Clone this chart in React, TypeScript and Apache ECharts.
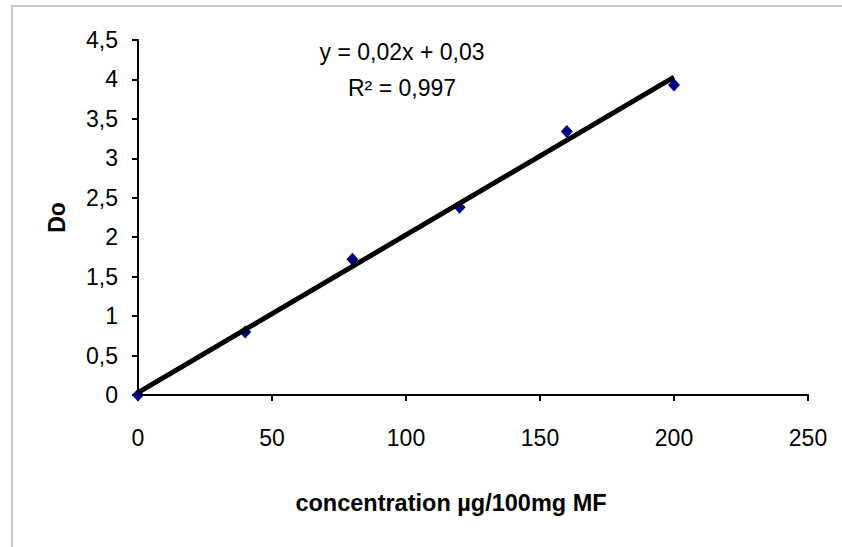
import React, { useEffect, useRef } from "react";
import * as echarts from "echarts";

const concentrations = [0, 40, 80, 120, 160, 200];
const absorbance = [0, 0.8, 1.72, 2.38, 3.34, 3.93];
const slope = 0.02;
const intercept = 0.03;
const trendX = [0, 200];
const equationLines = ["y = 0,02x + 0,03", "R² = 0,997"];
const xAxisTitle = "concentration µg/100mg MF";
const yAxisTitle = "Do";

const FONT = "Arial, 'Liberation Sans', sans-serif";

export default function App() {
  const ref = useRef<HTMLDivElement>(null);
  useEffect(() => {
    if (!ref.current) return;
    const chart = echarts.init(ref.current, null, { renderer: "svg" });
    const comma = (v: number) => String(v).replace(".", ",");
    chart.setOption({
      animation: false,
      backgroundColor: "#ffffff",
      textStyle: { fontFamily: FONT },
      grid: { left: 138, top: 40, right: 34, bottom: 152, containLabel: false },
      graphic: [
        {
          type: "rect",
          shape: { x: 12, y: 6, width: 900, height: 600 },
          style: { fill: "none", stroke: "#c8c8c8", lineWidth: 2 },
          silent: true,
        },
        {
          type: "text",
          x: 402,
          y: 52,
          style: {
            text: equationLines[0],
            fontSize: 23,
            fontFamily: FONT,
            fill: "#000",
            align: "center",
            verticalAlign: "middle",
          },
        },
        {
          type: "text",
          x: 402,
          y: 88,
          style: {
            text: equationLines[1],
            fontSize: 23,
            fontFamily: FONT,
            fill: "#000",
            align: "center",
            verticalAlign: "middle",
          },
        },
        {
          type: "text",
          x: 451,
          y: 503,
          style: {
            text: xAxisTitle,
            fontSize: 23.5,
            fontWeight: "bold",
            fontFamily: FONT,
            fill: "#000",
            align: "center",
            verticalAlign: "middle",
          },
        },
      ],
      xAxis: {
        type: "value",
        min: 0,
        max: 250,
        interval: 50,
        axisLine: { show: true, onZero: false, lineStyle: { color: "#000", width: 2 } },
        axisTick: { show: true, inside: false, length: 6, lineStyle: { color: "#000", width: 2 } },
        axisLabel: { fontSize: 23, color: "#000", margin: 31, fontFamily: FONT },
        splitLine: { show: false },
      },
      yAxis: {
        type: "value",
        min: 0,
        max: 4.5,
        interval: 0.5,
        name: yAxisTitle,
        nameLocation: "middle",
        nameGap: 70,
        nameRotate: 90,
        nameTextStyle: { fontSize: 23, fontWeight: "bold", color: "#000", fontFamily: FONT },
        axisLine: { show: true, onZero: false, lineStyle: { color: "#000", width: 2 } },
        axisTick: { show: true, inside: false, length: 6, lineStyle: { color: "#000", width: 2 } },
        axisLabel: { fontSize: 23, color: "#000", margin: 20, fontFamily: FONT, formatter: comma },
        splitLine: { show: false },
      },
      series: [
        {
          type: "scatter",
          data: concentrations.map((x, i) => [x, absorbance[i]]),
          symbol: "diamond",
          symbolSize: [12, 13],
          itemStyle: { color: "#000080", opacity: 1 },
          z: 2,
        },
        {
          type: "line",
          data: trendX.map((x) => [x, slope * x + intercept]),
          showSymbol: false,
          symbol: "none",
          lineStyle: { color: "#000", width: 5 },
          z: 3,
        },
      ],
    });
    return () => chart.dispose();
  }, []);
  return (
    <div
      ref={ref}
      style={{ position: "absolute", left: 0, top: 0, width: 842, height: 547 }}
    />
  );
}
